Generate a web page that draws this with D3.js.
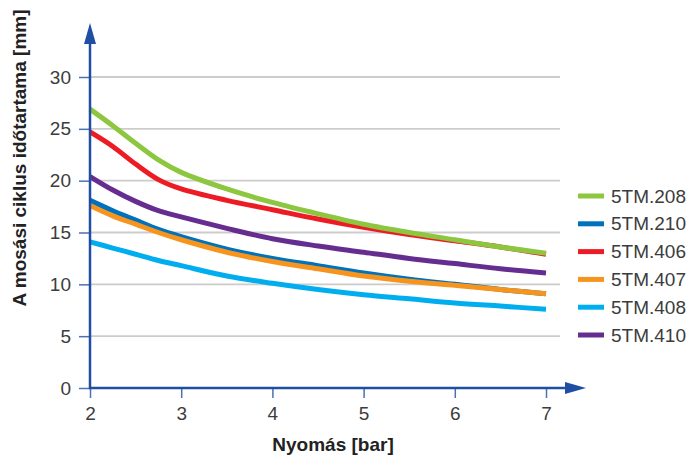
<!DOCTYPE html>
<html><head><meta charset="utf-8">
<script src="https://cdn.jsdelivr.net/npm/d3@7"></script>
<style>body{margin:0;background:#fff}svg{display:block;font-family:"Liberation Sans",Arial,sans-serif}</style>
</head><body><svg id="c" width="687" height="455"></svg>
<script>
const pressures = [2, 2.25, 2.5, 2.75, 3, 3.5, 4, 4.5, 5, 5.5, 6, 6.5, 7];
const s208 = [26.9, 25.3, 23.6, 22.0, 20.8, 19.2, 17.9, 16.8, 15.8, 15.0, 14.3, 13.6, 13.0];
const s210 = [18.1, 17.1, 16.2, 15.3, 14.6, 13.4, 12.5, 11.8, 11.1, 10.5, 10.0, 9.5, 9.1];
const s406 = [24.7, 23.3, 21.6, 20.1, 19.2, 18.1, 17.2, 16.3, 15.5, 14.8, 14.2, 13.6, 12.9];
const s407 = [17.6, 16.6, 15.8, 15.0, 14.3, 13.1, 12.2, 11.5, 10.8, 10.3, 9.9, 9.5, 9.1];
const s408 = [14.1, 13.5, 12.9, 12.3, 11.8, 10.8, 10.1, 9.5, 9.0, 8.6, 8.2, 7.9, 7.6];
const s410 = [20.4, 19.1, 18.0, 17.1, 16.5, 15.4, 14.4, 13.7, 13.1, 12.5, 12.0, 11.5, 11.1];
const seriesNames = ["5TM.208", "5TM.210", "5TM.406", "5TM.407", "5TM.408", "5TM.410"];
const seriesValues = [s208, s210, s406, s407, s408, s410];
const colors = ["#8dc63f", "#0072bc", "#ed1c24", "#f7941d", "#00aeef", "#662d91"];
const drawOrder = [2, 0, 5, 1, 3, 4];
const xTicks = [2, 3, 4, 5, 6, 7];
const yTicks = [0, 5, 10, 15, 20, 25, 30];
const xTitle = "Nyomás [bar]";
const yTitle = "A mosási ciklus időtartama [mm]";

const svg = d3.select("#c");
const x = d3.scaleLinear().domain([2, 7]).range([90, 546]);
const y = d3.scaleLinear().domain([0, 30]).range([388, 77]);
const axisColor = "#1f4ea3";
const tickColor = "#4a70b5";
const fontFam = "Liberation Sans, Arial, sans-serif";

// grid
svg.append("g").selectAll("line").data(yTicks.filter(d => d > 0)).join("line")
  .attr("x1", x(2)).attr("x2", 560).attr("y1", d => y(d)).attr("y2", d => y(d))
  .attr("stroke", "#cccccc").attr("stroke-width", 1.8);

// y axis
const yAxis = svg.append("g").attr("transform", `translate(${x(2)},0)`)
  .call(d3.axisLeft(y).tickValues(yTicks).tickFormat(d3.format("d")).tickSize(11).tickPadding(8));
yAxis.select(".domain").remove();
yAxis.selectAll(".tick line").attr("stroke", tickColor).attr("stroke-width", 1.5);
yAxis.selectAll(".tick text").attr("font-size", 19).attr("fill", "#3c3c3c").attr("font-family", fontFam);

// x axis
const xAxis = svg.append("g").attr("transform", `translate(0,${y(0)})`)
  .call(d3.axisBottom(x).tickValues(xTicks).tickFormat(d3.format("d")).tickSize(10).tickPadding(8.5));
xAxis.select(".domain").remove();
xAxis.selectAll(".tick line").attr("stroke", tickColor).attr("stroke-width", 1.5);
xAxis.selectAll(".tick text").attr("font-size", 19).attr("fill", "#3c3c3c").attr("font-family", fontFam);

// lines
const line = d3.line().x(d => x(d[0])).y(d => y(d[1])).curve(d3.curveCatmullRom.alpha(0.5));
drawOrder.forEach(i => {
  const vals = seriesValues[i];
  svg.append("path").datum(pressures.map((p, j) => [p, vals[j]]))
    .attr("d", line).attr("fill", "none").attr("stroke", colors[i])
    .attr("stroke-width", 5).attr("stroke-linejoin", "round");
});

// axis lines with arrows
svg.append("line").attr("x1", x(2)).attr("x2", x(2)).attr("y1", y(0) + 1).attr("y2", 40)
  .attr("stroke", axisColor).attr("stroke-width", 2.5);
svg.append("path").attr("d", `M${x(2)},23 L${x(2) - 6},44 L${x(2) + 6},44 Z`).attr("fill", axisColor);
svg.append("line").attr("x1", x(2) - 1).attr("x2", 568).attr("y1", y(0)).attr("y2", y(0))
  .attr("stroke", axisColor).attr("stroke-width", 2.5);
svg.append("path").attr("d", `M586,${y(0)} L565,${y(0) - 6} L565,${y(0) + 6} Z`).attr("fill", axisColor);

// legend
const lg = svg.append("g");
seriesNames.forEach((n, i) => {
  const ly = 196 + i * 27.8;
  lg.append("line").attr("x1", 578).attr("x2", 604).attr("y1", ly).attr("y2", ly)
    .attr("stroke", colors[i]).attr("stroke-width", 5);
  lg.append("text").attr("x", 611).attr("y", ly + 6.5).attr("font-size", 19).attr("fill", "#3c3c3c").text(n);
});

// titles
svg.append("text").attr("x", 333).attr("y", 451).attr("text-anchor", "middle")
  .attr("font-size", 19).attr("font-weight", "bold").attr("fill", "#222").text(xTitle);
svg.append("text").attr("transform", "translate(26,158) rotate(-90)").attr("text-anchor", "middle")
  .attr("font-size", 19).attr("font-weight", "bold").attr("fill", "#222").text(yTitle);
</script></body></html>
